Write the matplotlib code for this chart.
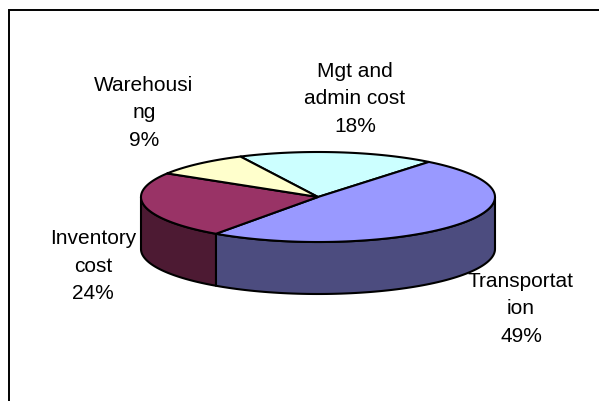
"""3D-style pie of logistics cost breakdown, drawn as flat polygons in pixel space."""
import numpy as np
import matplotlib
matplotlib.use("Agg")
import matplotlib.pyplot as plt
from matplotlib.patches import Polygon

plt.rcParams["font.family"] = ["Liberation Sans", "DejaVu Sans"]

# ---- data (clockwise from the top-left boundary) ----
labels = ["Mgt and\nadmin cost", "Transportat\nion", "Inventory\ncost", "Warehousi\nng"]
values = [18, 49, 24, 9]
top_colors = ["#CCFFFF", "#9999FF", "#993366", "#FFFFCC"]
side_colors = ["#66807F", "#4C4C7F", "#4D1A33", "#80805F"]
label_xy = [(355, 99), (521, 309), (93, 266), (144, 113)]

# ---- geometry (pixel coords, y down) ----
CX, CY = 318, 197
RX, RY = 177, 45
DEPTH = 52
START = 116.0   # degrees, first slice starts here and runs clockwise
EDGE = "black"
LW = 1.5

fig = plt.figure(figsize=(5.99, 4.01), dpi=100)
ax = fig.add_axes([0, 0, 1, 1])
ax.set_xlim(0, 599)
ax.set_ylim(401, 0)
ax.axis("off")

def pt(a, dz=0.0):
    r = np.radians(a)
    return CX + RX * np.cos(r), CY - RY * np.sin(r) + dz

# slice angle intervals (lo, hi) in degrees, counter-clockwise sense
fracs = np.array(values, float) / sum(values)
bounds = START - np.concatenate([[0], np.cumsum(fracs) * 360])
spans = [(bounds[i + 1], bounds[i]) for i in range(len(values))]

# ---- side walls (front half: angles in [180, 360] mod 360) ----
for (lo, hi), sc in zip(spans, side_colors):
    for k in (-360, 0, 360):
        a0 = max(lo + k, 180)
        a1 = min(hi + k, 360)
        if a1 <= a0:
            continue
        aa = np.linspace(a0, a1, 80)
        xt, yt = pt(aa)
        xb, yb = pt(aa[::-1], DEPTH)
        poly = np.column_stack([np.concatenate([xt, xb]), np.concatenate([yt, yb])])
        ax.add_patch(Polygon(poly, closed=True, fc=sc, ec=EDGE, lw=LW, joinstyle="round"))

# ---- top faces ----
for (lo, hi), tc in zip(spans, top_colors):
    aa = np.linspace(lo, hi, 120)
    xt, yt = pt(aa)
    poly = np.column_stack([np.concatenate([[CX], xt]), np.concatenate([[CY], yt])])
    ax.add_patch(Polygon(poly, closed=True, fc=tc, ec=EDGE, lw=LW, joinstyle="round"))

# ---- labels ----
for lab, v, (lx, ly) in zip(labels, values, label_xy):
    ax.text(lx, ly, f"{lab}\n{v}%", ha="center", va="center",
            fontsize=15, linespacing=1.58, color="black")

# ---- chart frame (left and top edges visible) ----
ax.plot([9, 9, 599], [401, 10, 10], color="black", lw=1.4, solid_joinstyle="miter")

fig.savefig("out.png", dpi=100, facecolor="white")
